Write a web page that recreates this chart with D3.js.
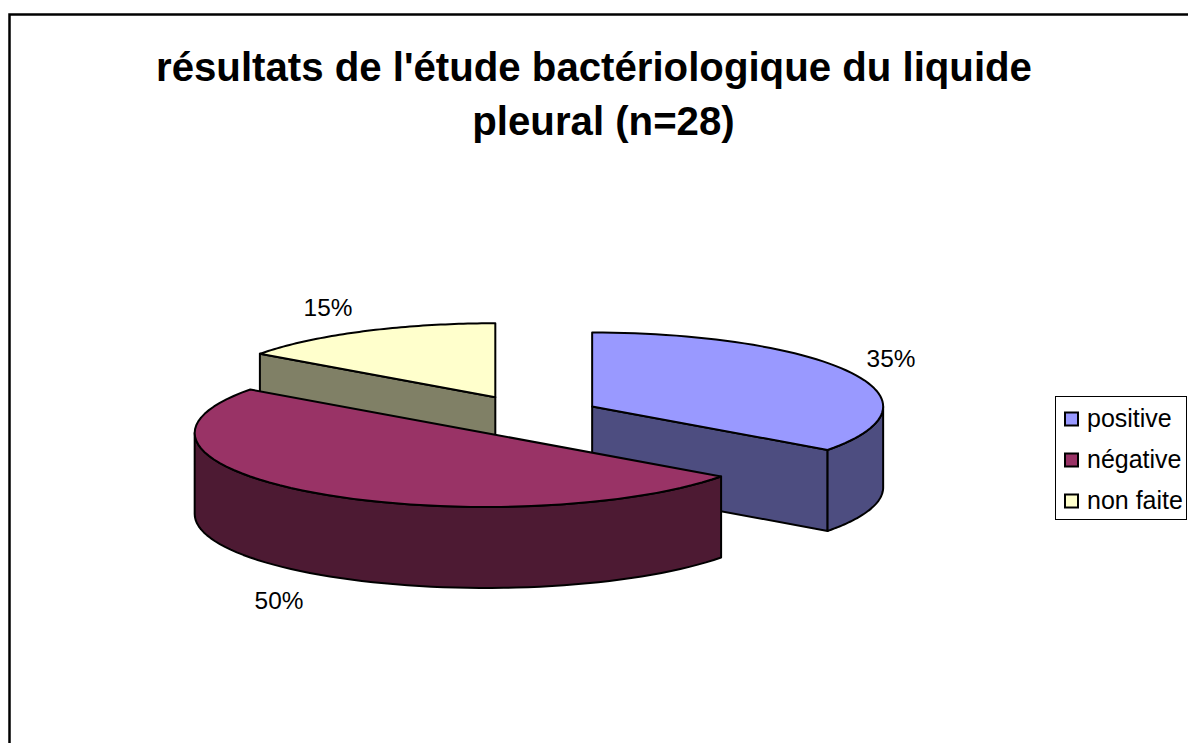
<!DOCTYPE html>
<html>
<head>
<meta charset="utf-8">
<script src="https://cdnjs.cloudflare.com/ajax/libs/d3/7.8.5/d3.min.js"></script>
<style>
  html, body { margin: 0; padding: 0; background: #fff; overflow: hidden; }
  text { font-family: "Liberation Sans", Arial, sans-serif; fill: #000; }
</style>
</head>
<body>
<script>
const categories = ["positive", "négative", "non faite"];
const values = [35, 50, 15];
const topColours = ["#9999ff", "#993366", "#ffffcc"];
const sideColours = ["#4d4d80", "#4d1a33", "#808066"];
const titleLines = ["résultats de l'étude bactériologique du liquide", "pleural (n=28)"];

const width = 1188, height = 743;
const cx = 528, cy = 416;     // pie centre before the slices get pulled out
const rx = 291, ry = 74, depth = 81;
const explodeX = 72, explodeY = 21;

const svg = d3.select("body").append("svg")
  .attr("width", width)
  .attr("height", height)
  .style("display", "block");

// chart frame runs off the right and bottom of the picture
svg.append("path")
  .attr("d", `M9.5,${height + 5}V14.5H${width + 5}`)
  .attr("fill", "none")
  .attr("stroke", "#000")
  .attr("stroke-width", 2.5);

// second line sits a bit right of the first one in the original
svg.selectAll("text.title")
  .data(titleLines)
  .enter()
  .append("text")
  .attr("class", "title")
  .attr("x", (d, i) => i ? 603.5 : 594)
  .attr("y", (d, i) => 81 + i * 54)
  .attr("text-anchor", "middle")
  .style("font-weight", "700")
  .style("font-size", "40.2px")
  .text(d => d);

const pie = d3.pie().sort(null).value(d => d);
const slices = pie(values).map((s, i) => {
  const mid = (s.startAngle + s.endAngle) / 2;
  return {
    i: i,
    a0: s.startAngle,
    a1: s.endAngle,
    mid: mid,
    value: s.value,
    x: cx + explodeX * Math.sin(mid),
    y: cy - explodeY * Math.cos(mid)
  };
});

const pt = (s, a, dy) => [s.x + rx * Math.sin(a), s.y - ry * Math.cos(a) + (dy || 0)];
const line = d3.line();

function arcPoints(s, a0, a1, dy) {
  return d3.range(0, 61).map(k => pt(s, a0 + (a1 - a0) * k / 60, dy));
}

// back to front: non faite, positive, négative
const order = [2, 0, 1];
const sliceG = svg.selectAll("g.slice")
  .data(order.map(i => slices[i]))
  .enter()
  .append("g")
  .attr("class", "slice")
  .attr("stroke", "#000")
  .attr("stroke-width", 2)
  .attr("stroke-linejoin", "round");

sliceG.each(function(s) {
  const g = d3.select(this);
  const side = sideColours[s.i];
  const apex = [s.x, s.y];
  const apexLow = [s.x, s.y + depth];

  // cut faces that look towards the viewer
  if (Math.sin(s.a0) < -1e-9) {
    g.append("path").attr("fill", side)
      .attr("d", line([apex, pt(s, s.a0), pt(s, s.a0, depth), apexLow]) + "Z");
  }
  if (Math.sin(s.a1) > 1e-9) {
    g.append("path").attr("fill", side)
      .attr("d", line([apex, pt(s, s.a1), pt(s, s.a1, depth), apexLow]) + "Z");
  }

  // outer wall, only the front half of the ellipse shows
  const w0 = Math.max(s.a0, Math.PI / 2), w1 = Math.min(s.a1, 3 * Math.PI / 2);
  if (w1 > w0) {
    const upper = arcPoints(s, w0, w1, 0);
    const lower = arcPoints(s, w1, w0, depth);
    g.append("path").attr("fill", side)
      .attr("d", line(upper.concat(lower)) + "Z");
  }

  // top face
  g.append("path").attr("fill", topColours[s.i])
    .attr("d", line([apex].concat(arcPoints(s, s.a0, s.a1, 0))) + "Z");
});

// percent labels sit outside the slices
const labelPos = d3.scaleOrdinal().domain(categories)
  .range([[891, 367], [279, 609], [328, 316]]);
svg.selectAll("text.pct")
  .data(slices)
  .enter()
  .append("text")
  .attr("class", "pct")
  .attr("x", d => labelPos(categories[d.i])[0])
  .attr("y", d => labelPos(categories[d.i])[1])
  .attr("text-anchor", "middle")
  .style("font-size", "24.4px")
  .text(d => d3.format(".0f")(d.value) + "%");

// legend
const legendY = d3.scalePoint().domain(categories).range([419, 501]);
svg.append("rect")
  .attr("x", 1055.5)
  .attr("y", 396.5)
  .attr("width", 131)
  .attr("height", 123)
  .attr("fill", "#fff")
  .attr("stroke", "#000")
  .attr("stroke-width", 1);

const legend = svg.selectAll("g.legend")
  .data(categories)
  .enter()
  .append("g")
  .attr("class", "legend")
  .attr("transform", d => `translate(0,${legendY(d)})`);

legend.append("rect")
  .attr("x", 1065)
  .attr("y", -6.5)
  .attr("width", 13)
  .attr("height", 13)
  .attr("fill", (d, i) => topColours[i])
  .attr("stroke", "#000")
  .attr("stroke-width", 2);

legend.append("text")
  .attr("x", 1087)
  .attr("y", 8)
  .style("font-size", "25px")
  .text(d => d);
</script>
</body>
</html>
